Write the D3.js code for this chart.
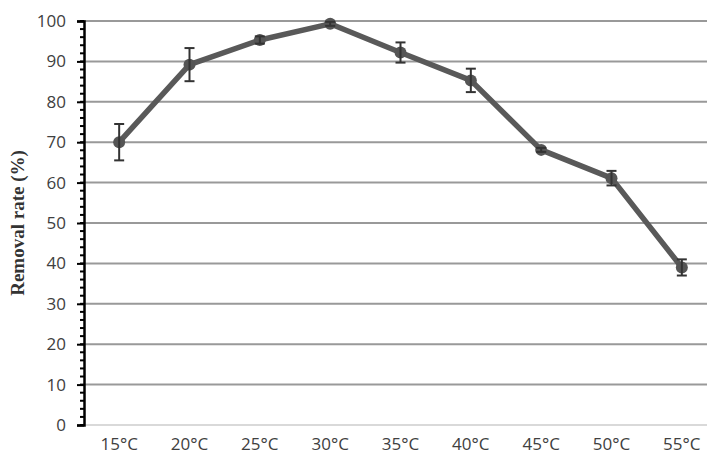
<!DOCTYPE html>
<html>
<head>
<meta charset="utf-8">
<script src="https://cdn.jsdelivr.net/npm/d3@7"></script>
<style>
  body { margin: 0; background: #fff; }
  svg { display: block; }
</style>
</head>
<body>
<div id="chart"></div>
<script>
// Daten
const temps = ['15°C', '20°C', '25°C', '30°C', '35°C', '40°C', '45°C', '50°C', '55°C'];
const removal = [70, 89.2, 95.3, 99.3, 92.2, 85.3, 68.1, 61.1, 39];
const errors = [4.5, 4.1, 0.9, 0.5, 2.5, 2.9, 0.5, 1.8, 2];
const yTicks = [0, 10, 20, 30, 40, 50, 60, 70, 80, 90, 100];

const width = 707, height = 459;
const margin = { top: 21, right: -10, bottom: 34, left: 84 };

const svg = d3.select('#chart').append('svg')
    .attr('width', width)
    .attr('height', height);

const x = d3.scaleBand()
    .domain(temps)
    .range([margin.left, width - margin.right]);

const y = d3.scaleLinear()
    .domain([0, 100])
    .range([height - margin.bottom, margin.top]);

// Gitterlinien
svg.append('g')
    .selectAll('line')
    .data(yTicks.filter(d => d > 0))
    .join('line')
    .attr('x1', margin.left)
    .attr('x2', width)
    .attr('y1', d => y(d))
    .attr('y2', d => y(d))
    .attr('stroke', '#999')
    .attr('stroke-width', 2);

// X-Achse (hellgrau)
svg.append('line')
    .attr('x1', margin.left)
    .attr('x2', width)
    .attr('y1', y(0))
    .attr('y2', y(0))
    .attr('stroke', '#d9d9d9')
    .attr('stroke-width', 2);

// Kleine Ticks alle 2 Einheiten
svg.append('g')
    .selectAll('line')
    .data(d3.range(0, 101, 2))
    .join('line')
    .attr('x1', margin.left - 4)
    .attr('x2', margin.left)
    .attr('y1', d => y(d))
    .attr('y2', d => y(d))
    .attr('stroke', '#000')
    .attr('stroke-width', 2);

// Y-Achse
const yAxis = svg.append('g')
    .attr('transform', `translate(${margin.left},0)`)
    .call(d3.axisLeft(y).tickValues(yTicks).tickSize(7).tickPadding(11));

yAxis.select('.domain')
    .attr('stroke', '#000')
    .attr('stroke-width', 2.5);
yAxis.selectAll('.tick line')
    .attr('stroke', '#000')
    .attr('stroke-width', 2);
yAxis.selectAll('.tick text')
    .style('font-family', 'Open Sans, sans-serif')
    .style('font-size', '17px')
    .style('fill', '#404040');

// X-Beschriftungen
const xAxis = svg.append('g')
    .attr('transform', `translate(0,${y(0)})`)
    .call(d3.axisBottom(x).tickSize(0).tickPadding(13));
xAxis.select('.domain').remove();
xAxis.selectAll('.tick text')
    .style('font-family', 'Open Sans, sans-serif')
    .style('font-size', '17px')
    .style('fill', '#404040');

// Achsentitel
svg.append('text')
    .attr('transform', `translate(24,${(y(0) + y(100)) / 2}) rotate(-90)`)
    .attr('text-anchor', 'middle')
    .style('font-family', 'Liberation Serif, serif')
    .style('font-weight', '700')
    .style('font-size', '19px')
    .style('fill', '#333')
    .text('Removal rate (%)');

const cx = d => x(d) + x.bandwidth() / 2;

// Linie
const line = d3.line()
    .x((d, i) => cx(temps[i]))
    .y(d => y(d));

svg.append('path')
    .datum(removal)
    .attr('d', line)
    .attr('fill', 'none')
    .attr('stroke', '#595959')
    .attr('stroke-width', 5.5)
    .attr('stroke-linejoin', 'round');

// Punkte
svg.append('g')
    .selectAll('circle')
    .data(removal)
    .join('circle')
    .attr('cx', (d, i) => cx(temps[i]))
    .attr('cy', d => y(d))
    .attr('r', 6)
    .attr('fill', '#555');

// Fehlerbalken
const eb = svg.append('g')
    .attr('stroke', '#333')
    .attr('stroke-width', 2);

removal.forEach((v, i) => {
    const px = cx(temps[i]);
    const e = errors[i];
    eb.append('line')
        .attr('x1', px).attr('x2', px)
        .attr('y1', y(v - e)).attr('y2', y(v + e));
    [v - e, v + e].forEach(yy => {
        eb.append('line')
            .attr('x1', px - 5).attr('x2', px + 5)
            .attr('y1', y(yy)).attr('y2', y(yy));
    });
});
</script>
</body>
</html>
